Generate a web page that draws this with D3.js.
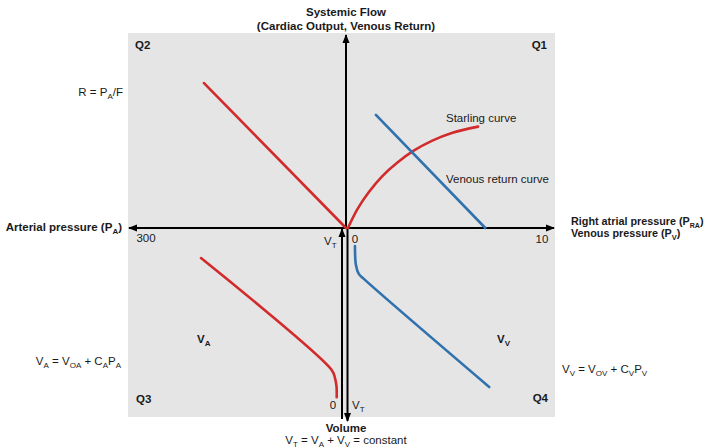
<!DOCTYPE html>
<html><head><meta charset="utf-8">
<script src="https://cdn.jsdelivr.net/npm/d3@7"></script>
<style>
body{margin:0;background:#fff}
svg{display:block}
text{font-family:"Liberation Sans",Arial,Helvetica,sans-serif;font-size:11.5px;fill:#1a1a1a}
.b{font-weight:bold}
</style>
</head><body>
<svg id="c" width="708" height="448"></svg>
<script>
// ---- data ----
// Q2: arterial pressure (mmHg) vs flow
const resistanceLine = [[0, 0], [213, 7.55]];
// Q1: Starling curve, right atrial pressure vs cardiac output
const starlingCurve = [[0.05, 0], [0.53, 0.97], [1.12, 1.86], [1.81, 2.69], [2.60, 3.41], [3.46, 4.04], [4.40, 4.55], [5.40, 4.95], [6.76, 5.28]];
// Q1: venous return curve
const venousReturnCurve = [[1.49, 5.89], [7.13, 0]];
// Q4: venous pressure vs venous volume
const venousVolume = [[0.41, 0.95], [0.46, 1.95], [0.60, 2.40], [0.87, 2.68], [7.33, 8.37]];
// Q3: arterial pressure vs arterial volume
const arterialVolume = [[217.5, 1.58], [21.5, 7.47], [16.5, 7.9], [14.2, 8.35], [14, 8.9]];
// tick labels
const arterialTicks = [300];
const venousTicks = [0, 10];
const volumeTicks = [0];
const quadrants = ["Q1", "Q2", "Q3", "Q4"];

// ---- scales ----
const xA = d3.scaleLinear().domain([0, 300]).range([346, 146]);   // arterial pressure (leftwards)
const xV = d3.scaleLinear().domain([0, 10]).range([347, 541]);    // venous pressure (rightwards)
const yF = d3.scaleLinear().domain([0, 10]).range([228, 36]);     // flow (upwards)
const yVol = d3.scaleLinear().domain([0, 10]).range([228, 418]);  // volume (downwards)

const RED = "#d12b2b", BLUE = "#2f72ad";
const svg = d3.select("#c");

const defs = svg.append("defs");
defs.append("marker").attr("id", "arr").attr("viewBox", "0 -4 9 8")
  .attr("refX", 8).attr("refY", 0).attr("markerWidth", 9).attr("markerHeight", 8)
  .attr("markerUnits", "userSpaceOnUse").attr("orient", "auto")
  .append("path").attr("d", "M0,-3.5L9,0L0,3.5Z").attr("fill", "#000");

// panel
svg.append("rect").attr("x", 128).attr("y", 33).attr("width", 427).attr("height", 384).attr("fill", "#e6e5e6");

// axes
const ax = svg.append("g").attr("stroke", "#000").attr("stroke-width", 2).attr("fill", "none");
ax.append("line").attr("x1", 346).attr("y1", 228).attr("x2", 346).attr("y2", 35).attr("marker-end", "url(#arr)");
ax.append("line").attr("x1", 346).attr("y1", 228).attr("x2", 129).attr("y2", 228).attr("marker-end", "url(#arr)");
ax.append("line").attr("x1", 346).attr("y1", 228).attr("x2", 554).attr("y2", 228).attr("marker-end", "url(#arr)");
ax.append("line").attr("x1", 342).attr("y1", 419).attr("x2", 342).attr("y2", 229).attr("marker-end", "url(#arr)");
ax.append("line").attr("x1", 347.5).attr("y1", 229).attr("x2", 347.5).attr("y2", 421).attr("marker-end", "url(#arr)");

// curves
function draw(data, xs, ys, color, curve) {
  const line = d3.line().x(d => xs(d[0])).y(d => ys(d[1])).curve(curve);
  svg.append("path").datum(data).attr("d", line).attr("fill", "none")
    .attr("stroke", color).attr("stroke-width", 2.6).attr("stroke-linecap", "round").attr("stroke-linejoin", "round");
}
draw(resistanceLine, xA, yF, RED, d3.curveLinear);
draw(starlingCurve, xV, yF, RED, d3.curveCatmullRom.alpha(0.5));
draw(venousReturnCurve, xV, yF, BLUE, d3.curveLinear);
draw(venousVolume, xV, yVol, BLUE, d3.curveCatmullRom.alpha(0.5));
draw(arterialVolume, xA, yVol, RED, d3.curveCatmullRom.alpha(0.5));

// text helper with subscripts: parts = ["normal", ["sub"], ...]
function rich(x, y, parts, opts = {}) {
  const t = svg.append("text").attr("x", x).attr("y", y)
    .attr("text-anchor", opts.anchor || "start").classed("b", !!opts.bold);
  if (opts.size) t.style("font-size", opts.size);
  let shifted = false;
  parts.forEach(p => {
    if (typeof p === "string") {
      const s = t.append("tspan").text(p);
      if (shifted) { s.attr("dy", -3); shifted = false; }
    } else {
      t.append("tspan").style("font-size", opts.sub || "8px").attr("dy", shifted ? 0 : 3).text(p[0]);
      shifted = true;
    }
  });
  return t;
}

// titles
rich(346, 16, ["Systemic Flow"], {anchor: "middle", bold: true});
rich(346, 30, ["(Cardiac Output, Venous Return)"], {anchor: "middle", bold: true});

// quadrant labels
const qpos = {Q1: [547, 49, "end"], Q2: [135, 49, "start"], Q3: [136, 403, "start"], Q4: [548, 402, "end"]};
quadrants.forEach(q => rich(qpos[q][0], qpos[q][1], [q], {anchor: qpos[q][2], bold: true}));

// axis labels
rich(122, 231, ["Arterial pressure (P", ["A"], ")"], {anchor: "end", bold: true});
rich(571, 225, ["Right atrial pressure (P", ["RA"], ")"], {bold: true, size: "10.8px", sub: "7px"});
rich(571, 237, ["Venous pressure (P", ["V"], ")"], {bold: true, size: "10.8px", sub: "7.5px"});
rich(346, 432, ["Volume"], {anchor: "middle", bold: true});
rich(346, 444, ["V", ["T"], " = V", ["A"], " + V", ["V"], " = constant"], {anchor: "middle"});

// tick labels
arterialTicks.forEach(v => rich(xA(v), 242, [String(v)], {anchor: "middle"}));
venousTicks.forEach(v => rich(xV(v) + (v === 0 ? 8 : 1), 243, [String(v)], {anchor: "middle"}));
volumeTicks.forEach(v => rich(333, 409, [String(v)], {anchor: "middle"}));
rich(324, 245, ["V", ["T"]]);
rich(352, 409, ["V", ["T"]]);

// annotations
rich(123, 96, ["R = P", ["A"], "/F"], {anchor: "end"});
rich(446, 122, ["Starling curve"]);
rich(446, 183, ["Venous return curve"]);
rich(197, 343, ["V", ["A"]], {bold: true});
rich(497, 343, ["V", ["V"]], {bold: true});
rich(121, 365, ["V", ["A"], " = V", ["OA"], " + C", ["A"], "P", ["A"]], {anchor: "end"});
rich(562, 373, ["V", ["V"], " = V", ["OV"], " + C", ["V"], "P", ["V"]]);
</script>
</body></html>
